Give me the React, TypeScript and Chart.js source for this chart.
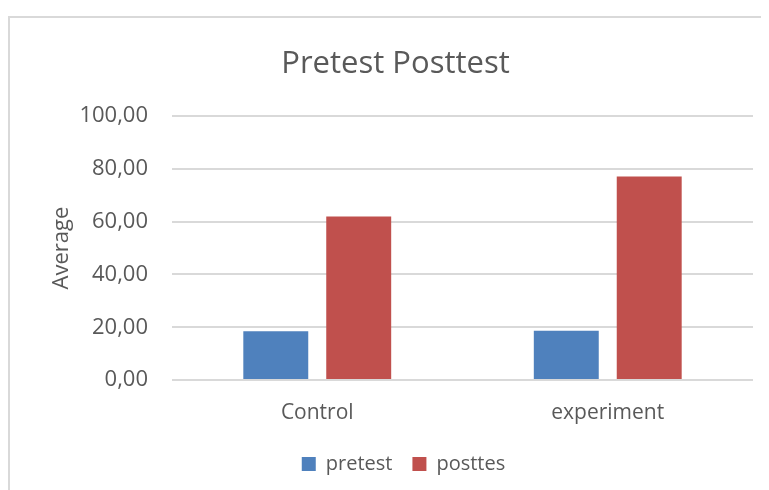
import React, { useEffect, useRef } from "react";
import { Chart, registerables } from "chart.js";

Chart.register(...registerables);

const categories = ["Control", "experiment"];
const pretest = [18.5, 18.7];
const posttes = [62.0, 77.1];
const yTicks = [0, 20, 40, 60, 80, 100];

const TEXT = "#595959";
const FONT = "'Open Sans', sans-serif";

const boxShift = {
  id: "boxShift",
  afterLayout(chart: any) {
    if (chart.legend) {
      chart.legend.left += 16;
      chart.legend.right += 16;
    }
    if (chart.titleBlock) {
      chart.titleBlock.left += 8;
      chart.titleBlock.right += 8;
    }
  },
};

export default function App() {
  const ref = useRef<HTMLCanvasElement | null>(null);

  useEffect(() => {
    if (!ref.current) return;
    const chart = new Chart(ref.current, {
      type: "bar",
      data: {
        labels: categories,
        datasets: [
          { label: "pretest", data: pretest, backgroundColor: "#4F81BD", barPercentage: 0.783, categoryPercentage: 0.571 },
          { label: "posttes", data: posttes, backgroundColor: "#C0504D", barPercentage: 0.783, categoryPercentage: 0.571 },
        ],
      },
      plugins: [boxShift],
      options: {
        animation: false,
        responsive: false,
        layout: { padding: { left: 14, right: 16, top: 0, bottom: 6 } },
        plugins: {
          title: {
            display: true,
            text: "Pretest Posttest",
            color: TEXT,
            font: { family: FONT, size: 31, weight: "normal" },
            padding: { top: 38, bottom: 33 },
          },
          legend: {
            display: true,
            position: "bottom",
            labels: {
              color: TEXT,
              font: { family: FONT, size: 20 },
              boxWidth: 14,
              boxHeight: 14,
              padding: 20,
            },
          },
          tooltip: { enabled: false },
        },
        scales: {
          x: {
            grid: { display: false },
            border: { display: false },
            ticks: { color: TEXT, font: { family: FONT, size: 21 }, padding: 12 },
            afterFit: (s: any) => { s.height = 54; },
          },
          y: {
            min: 0,
            max: 100,
            afterBuildTicks: (s: any) => { s.ticks = yTicks.map((v) => ({ value: v })); },
            grid: { color: "#d9d9d9", lineWidth: 2, drawTicks: false },
            border: { display: false },
            ticks: {
              color: TEXT,
              font: { family: FONT, size: 22 },
              padding: 24,
              callback: (v: any) => Number(v).toFixed(2).replace(".", ","),
            },
            title: {
              display: true,
              text: "Average",
              color: TEXT,
              font: { family: FONT, size: 22 },
              padding: { top: 27, bottom: 0 },
            },
            afterFit: (s: any) => { s.width = 150; },
          },
        },
      },
    });
    return () => chart.destroy();
  }, []);

  return (
    <div style={{ position: "relative", width: 761, height: 482 }}>
      <div
        style={{
          position: "absolute",
          left: 0,
          top: 8,
          width: 761,
          height: 474,
          borderLeft: "2px solid #d9d9d9",
          borderTop: "2px solid #d9d9d9",
          boxSizing: "border-box",
        }}
      />
      <canvas ref={ref} width={761} height={482} style={{ position: "absolute", left: 0, top: 0 }} />
    </div>
  );
}
